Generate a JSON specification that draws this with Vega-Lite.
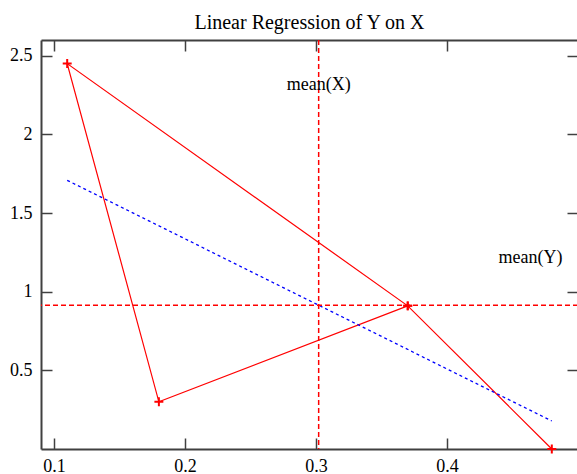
{
  "$schema": "https://vega.github.io/schema/vega-lite/v6.json",
  "width": 537,
  "height": 409,
  "autosize": {"type": "none"},
  "padding": {"left": 41, "top": 40, "right": 0, "bottom": 25},
  "background": "white",
  "title": {"text": "Linear Regression of Y on X", "font": "Liberation Serif", "fontSize": 20, "fontWeight": "normal", "color": "#000000", "anchor": "middle", "offset": 6},
  "config": {
    "view": {"stroke": null},
    "axis": {
      "grid": false,
      "title": null,
      "domainColor": "#404040",
      "domainWidth": 2,
      "tickColor": "#404040",
      "tickWidth": 1.5,
      "tickSize": -11,
      "labelFont": "Liberation Serif",
      "labelFontSize": 18,
      "labelColor": "#000000",
      "format": "~g"
    }
  },
  "datasets": {
    "pts": [
      {"x": 0.48, "y": 0.0, "order": 1},
      {"x": 0.37, "y": 0.91, "order": 2},
      {"x": 0.11, "y": 2.45, "order": 3},
      {"x": 0.18, "y": 0.3, "order": 4},
      {"x": 0.37, "y": 0.91, "order": 5}
    ],
    "reg": [
      {"x": 0.11, "y": 1.708},
      {"x": 0.48, "y": 0.178}
    ],
    "means": [
      {"mx": 0.302, "my": 0.914}
    ],
    "labels": [
      {"x": 0.302, "y": 2.28, "text": "mean(X)"},
      {"x": 0.4637, "y": 1.182, "text": "mean(Y)"}
    ]
  },
  "layer": [
    {
      "data": {"name": "pts"},
      "mark": {"type": "line", "color": "#ff0000", "strokeWidth": 1.2},
      "encoding": {
        "x": {"field": "x", "type": "quantitative", "scale": {"domain": [0.09, 0.5], "nice": false, "zero": false},
              "axis": {"orient": "bottom", "values": [0.1, 0.2, 0.3, 0.4], "labelPadding": 19}},
        "y": {"field": "y", "type": "quantitative", "scale": {"domain": [0, 2.6], "nice": false, "zero": false},
              "axis": {"orient": "left", "values": [0.5, 1, 1.5, 2, 2.5], "labelPadding": 20}},
        "order": {"field": "order", "type": "quantitative"}
      }
    },
    {
      "data": {"name": "pts"},
      "mark": {"type": "point", "shape": "M-1,0H1M0,-1V1", "size": 80, "filled": false, "stroke": "#ff0000", "strokeWidth": 2, "opacity": 1},
      "encoding": {
        "x": {"field": "x", "type": "quantitative", "scale": {"domain": [0.09, 0.5], "nice": false, "zero": false},
              "axis": {"orient": "top", "values": [0.1, 0.2, 0.3, 0.4], "labels": false}},
        "y": {"field": "y", "type": "quantitative", "scale": {"domain": [0, 2.6], "nice": false, "zero": false},
              "axis": {"orient": "right", "values": [0.5, 1, 1.5, 2, 2.5], "labels": false, "domain": false}}
      }
    },
    {
      "data": {"name": "reg"},
      "mark": {"type": "line", "color": "#0000ff", "strokeWidth": 1.3, "strokeDash": [3, 3]},
      "encoding": {
        "x": {"field": "x", "type": "quantitative", "axis": null},
        "y": {"field": "y", "type": "quantitative", "axis": null}
      }
    },
    {
      "data": {"name": "means"},
      "mark": {"type": "rule", "color": "#ff0000", "strokeWidth": 1.5, "strokeDash": [5, 3]},
      "encoding": {
        "x": {"field": "mx", "type": "quantitative", "axis": null}
      }
    },
    {
      "data": {"name": "means"},
      "mark": {"type": "rule", "color": "#ff0000", "strokeWidth": 1.5, "strokeDash": [5, 3]},
      "encoding": {
        "y": {"field": "my", "type": "quantitative", "axis": null}
      }
    },
    {
      "data": {"name": "labels"},
      "mark": {"type": "text", "font": "Liberation Serif", "fontSize": 18, "color": "#000000", "align": "center", "baseline": "alphabetic"},
      "encoding": {
        "x": {"field": "x", "type": "quantitative", "axis": null},
        "y": {"field": "y", "type": "quantitative", "axis": null},
        "text": {"field": "text", "type": "nominal"}
      }
    }
  ],
  "resolve": {"axis": {"x": "independent", "y": "independent"}}
}
